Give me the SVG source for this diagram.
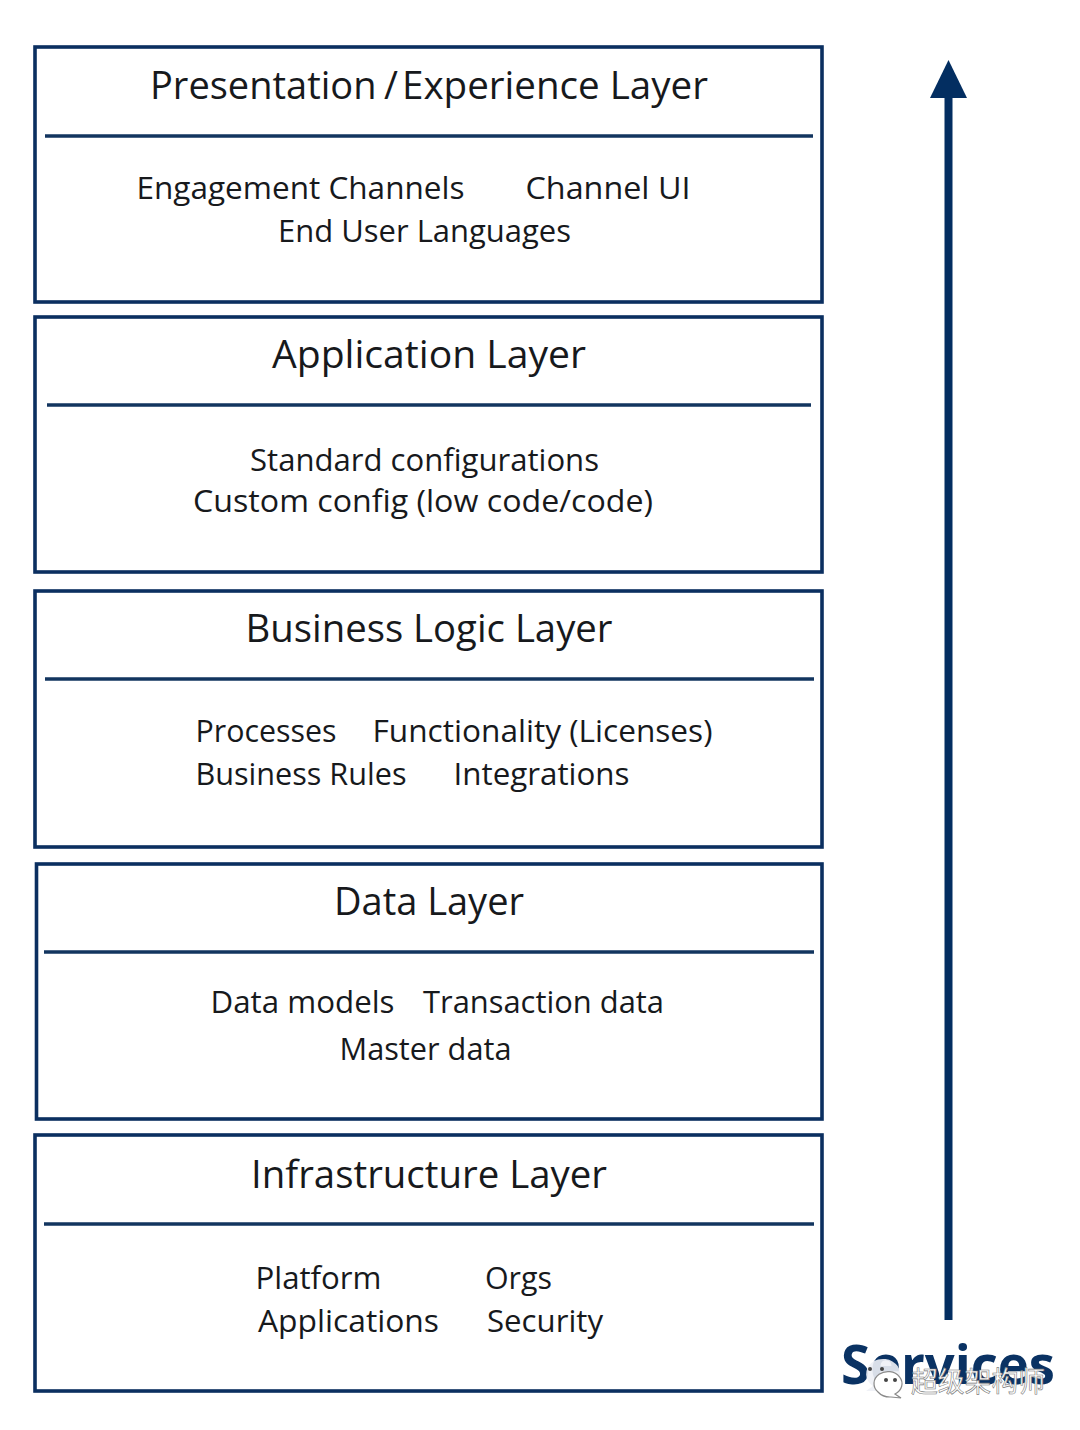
<svg xmlns="http://www.w3.org/2000/svg" width="1080" height="1430" viewBox="0 0 1080 1430">
  <style>
    text { font-family: "Open Sans", "Noto Sans", "Liberation Sans", sans-serif; fill: #17191c; }
    .frame { fill: #ffffff; stroke: #0b2f60; stroke-width: 3.6; }
    .rule { stroke: #12355f; stroke-width: 3.4; fill: none; }
    .title { font-size: 38px; text-anchor: middle; }
    .item { font-size: 31px; }
    .shaft { fill: #032e61; }
    .services { font-size: 54px; font-weight: 700; fill: #0a3263; }
    .mark { font-family: "Noto Sans CJK SC", sans-serif; font-size: 28px; fill: #ffffff; stroke: #777777; stroke-width: 0.6; }
    .bubble { stroke: #8a8a8a; stroke-width: 1.2; }
  </style>
  <rect width="1080" height="1430" fill="#ffffff"/>

  <g id="presentation-layer">
    <rect class="frame" x="35" y="47" width="787" height="255"/>
    <line class="rule" x1="45" y1="136" x2="813" y2="136"/>
    <text class="title" x="150" y="99" style="text-anchor:start">Presentation</text>
    <text class="title" x="384" y="99" style="text-anchor:start">/</text>
    <text class="title" x="402" y="99" style="text-anchor:start" textLength="306" lengthAdjust="spacingAndGlyphs">Experience Layer</text>
    <text class="item" x="136.500" y="199" textLength="328" lengthAdjust="spacingAndGlyphs">Engagement Channels</text>
    <text class="item" x="525.500" y="199" textLength="165" lengthAdjust="spacingAndGlyphs">Channel UI</text>
    <text class="item" x="278" y="242" textLength="293" lengthAdjust="spacingAndGlyphs">End User Languages</text>
  </g>

  <g id="application-layer">
    <rect class="frame" x="35" y="317" width="787" height="255"/>
    <line class="rule" x1="47" y1="405" x2="811" y2="405"/>
    <text class="title" x="429" y="368" textLength="314" lengthAdjust="spacingAndGlyphs">Application Layer</text>
    <text class="item" x="250" y="471" textLength="349" lengthAdjust="spacingAndGlyphs">Standard configurations</text>
    <text class="item" x="193" y="512" textLength="460" lengthAdjust="spacingAndGlyphs">Custom config (low code/code)</text>
  </g>

  <g id="business-logic-layer">
    <rect class="frame" x="35" y="591" width="787" height="256"/>
    <line class="rule" x1="45" y1="679" x2="814" y2="679"/>
    <text class="title" x="429" y="642" textLength="367" lengthAdjust="spacingAndGlyphs">Business Logic Layer</text>
    <text class="item" x="195.500" y="742" textLength="141" lengthAdjust="spacingAndGlyphs">Processes</text>
    <text class="item" x="372.500" y="742" textLength="340" lengthAdjust="spacingAndGlyphs">Functionality (Licenses)</text>
    <text class="item" x="195.500" y="785" textLength="211" lengthAdjust="spacingAndGlyphs">Business Rules</text>
    <text class="item" x="453.500" y="785" textLength="176" lengthAdjust="spacingAndGlyphs">Integrations</text>
  </g>

  <g id="data-layer">
    <rect class="frame" x="36.500" y="864" width="785.500" height="255"/>
    <line class="rule" x1="44" y1="952" x2="814" y2="952"/>
    <text class="title" x="429" y="915" textLength="190" lengthAdjust="spacingAndGlyphs">Data Layer</text>
    <text class="item" x="210.500" y="1013" textLength="184" lengthAdjust="spacingAndGlyphs">Data models</text>
    <text class="item" x="423" y="1013" textLength="241" lengthAdjust="spacingAndGlyphs">Transaction data</text>
    <text class="item" x="339.500" y="1060" textLength="172" lengthAdjust="spacingAndGlyphs">Master data</text>
  </g>

  <g id="infrastructure-layer">
    <rect class="frame" x="35" y="1135" width="787" height="256"/>
    <line class="rule" x1="44" y1="1224" x2="814" y2="1224"/>
    <text class="title" x="429" y="1188" textLength="356" lengthAdjust="spacingAndGlyphs">Infrastructure Layer</text>
    <text class="item" x="255.500" y="1289" textLength="126" lengthAdjust="spacingAndGlyphs">Platform</text>
    <text class="item" x="485" y="1289" textLength="67" lengthAdjust="spacingAndGlyphs">Orgs</text>
    <text class="item" x="258" y="1332" textLength="181" lengthAdjust="spacingAndGlyphs">Applications</text>
    <text class="item" x="487" y="1332" textLength="116" lengthAdjust="spacingAndGlyphs">Security</text>
  </g>

  <g id="connectors">
    <rect class="shaft" x="944.500" y="97" width="8" height="1223"/>
    <polygon class="shaft" points="948.500,60 967,98 930,98"/>
  </g>

  <g id="services-label">
    <text class="services" x="841" y="1384" textLength="214" lengthAdjust="spacingAndGlyphs">Services</text>
  </g>

  <g id="account-mark">
    <path d="M866 1391 l7 -5 a17 15 0 1 1 16 2 l-8 3 z" fill="#eef1f6" fill-opacity="0.9"/>
    <path class="bubble" d="M878 1392 a14 12 0 1 1 17 2 l6 4 l-10 -1 a15 12 0 0 1 -13 -5 z" fill="#ffffff"/>
    <circle cx="886" cy="1380" r="2" fill="#444444"/>
    <circle cx="895" cy="1380" r="2" fill="#444444"/>
    <circle cx="870" cy="1369" r="2" fill="#444444"/>
    <circle cx="882" cy="1369" r="2" fill="#444444"/>
    <text class="mark" x="911" y="1392" textLength="134" lengthAdjust="spacingAndGlyphs">超级架构师</text>
  </g>
</svg>
